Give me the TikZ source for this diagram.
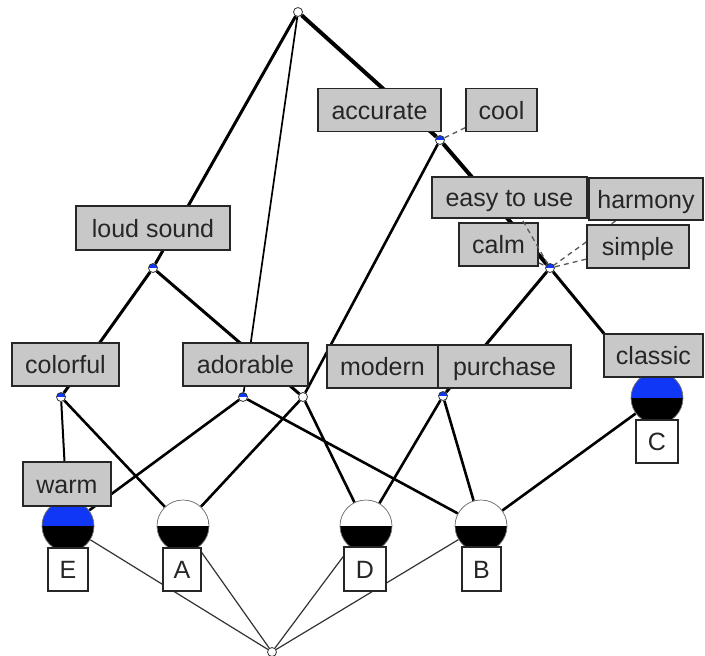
\documentclass[tikz,border=0pt]{standalone}
\usepackage{fontspec}
\setmainfont{Liberation Sans}
\pgfdeclarelayer{background}
\pgfsetlayers{background,main}
\definecolor{lblgray}{RGB}{200,200,200}
\definecolor{attrblue}{RGB}{15,55,245}
\tikzset{
  attrbox/.style={draw=black!85, line width=1.6pt, fill=lblgray, inner sep=0pt,
    minimum height=43pt, text height=18.5pt, text depth=0pt, text=black!85,
    font=\fontsize{25}{28}\selectfont},
  objbox/.style={attrbox, fill=white},
  cdot/.style={circle, draw=black!80, line width=0.8pt, fill=white,
    minimum size=9pt, inner sep=0pt},
  cdotattr/.style={cdot, path picture={\fill[attrblue]
    (path picture bounding box.north west) rectangle (path picture bounding box.east);}},
  cdisc/.style={circle, draw=black!55, line width=0.7pt, fill=black,
    minimum size=52pt, inner sep=0pt, path picture={\fill[#1]
    (path picture bounding box.north west) rectangle (path picture bounding box.east);}},
  wheavy/.style={line width=4pt},
  wstrong/.style={line width=3pt},
  wmed/.style={line width=2.6pt},
  wlight/.style={line width=1.7pt},
  wfine/.style={line width=1.2pt, draw=black!80},
  labellink/.style={line width=1.3pt, draw=black!65, dash pattern=on 5pt off 4pt},
}
\begin{document}
\begin{tikzpicture}[x=1pt,y=-1pt]
\useasboundingbox (0,0) rectangle (705,656);

% concepts of the lattice
\node[cdot]     (top)      at (298,12)  {};
\node[cdotattr] (acc)      at (440,140) {};
\node[cdotattr] (loud)     at (153,268) {};
\node[cdotattr] (calm)     at (550,268) {};
\node[cdotattr] (colorful) at (61,397)  {};
\node[cdotattr] (adorable) at (243,397) {};
\node[cdot]     (mid)      at (303,397) {};
\node[cdotattr] (purch)    at (443,396) {};
\node[cdisc=attrblue] (E)  at (68,526)  {};
\node[cdisc=white]    (A)  at (183,526) {};
\node[cdisc=white]    (D)  at (366,526) {};
\node[cdisc=white]    (B)  at (481,526) {};
\node[cdisc=attrblue] (C)  at (657,398) {};
\node[cdot]     (bottom)   at (272,652) {};

% attribute labels
\node[attrbox, minimum width=123pt] (l-accurate) at (379.5,110) {accurate};
\node[attrbox, minimum width=71pt]  (l-cool)     at (501.5,110) {cool};
\node[attrbox, minimum width=79pt]  (l-calm)     at (498.5,244.5) {calm};
\draw[labellink] (509.5,197.5) -- (calm);
\node[attrbox, minimum width=155pt, minimum height=41pt] (l-easy) at (509.5,197.5) {easy to use};
\node[attrbox, minimum width=114pt, minimum height=42pt] (l-harmony) at (646,199) {harmony};
\node[attrbox, minimum width=102pt] (l-simple)   at (638,246.5) {simple};
\node[attrbox, minimum width=154pt, minimum height=44pt] (l-loud) at (153,228) {loud sound};
\node[attrbox, minimum width=107pt] (l-colorful) at (65.5,364.5) {colorful};
\node[attrbox, minimum width=125pt] (l-adorable) at (245.5,364.5) {adorable};
\node[attrbox, minimum width=111pt] (l-modern)   at (382.5,366.5) {modern};
\node[attrbox, minimum width=133pt] (l-purchase) at (504.5,366.5) {purchase};
\node[attrbox, minimum width=99pt]  (l-classic)  at (653.5,355.5) {classic};
\node[attrbox, minimum width=88pt, minimum height=44pt] (l-warm) at (67,484) {warm};

% object labels
\node[objbox, minimum width=40pt] (o-E) at (68,569.5)  {E};
\node[objbox, minimum width=38pt] (o-A) at (182,569.5) {A};
\node[objbox, minimum width=42pt, minimum height=44pt] (o-D) at (365,569) {D};
\node[objbox, minimum width=39pt, minimum height=44pt] (o-B) at (481.5,569) {B};
\node[objbox, minimum width=42pt] (o-C) at (657,441.5) {C};

\begin{pgfonlayer}{background}
  % order relation
  \draw[wheavy]  (top) -- (acc);
  \draw[wstrong] (top) -- (loud);
  \draw[wlight]  (top) -- (adorable);
  \draw[wheavy]  (acc) -- (calm);
  \draw[wmed]    (acc) -- (mid);
  \draw[wstrong] (loud) -- (colorful);
  \draw[wstrong] (loud) -- (mid);
  \draw[wstrong] (calm) -- (purch);
  \draw[wstrong] (calm) -- (C);
  \draw[line width=2pt] (colorful) -- (E);
  \draw[wmed]    (colorful) -- (A);
  \draw[wmed]    (adorable) -- (E);
  \draw[wmed]    (adorable) -- (B);
  \draw[wmed]    (mid) -- (A);
  \draw[wmed]    (mid) -- (D);
  \draw[wmed]    (purch) -- (D);
  \draw[wmed]    (purch) -- (B);
  \draw[wmed]    (C) -- (B);
  \draw[wfine]   (E) -- (bottom);
  \draw[wfine]   (A) -- (bottom);
  \draw[wfine]   (D) -- (bottom);
  \draw[wfine]   (B) -- (bottom);
  % label leaders
  \draw[labellink] (l-cool) -- (acc);
  \draw[labellink] (l-calm) -- (calm);
  \draw[labellink] (l-simple) -- (calm);
  \draw[labellink] (l-harmony) -- (calm);
\end{pgfonlayer}
\end{tikzpicture}
\end{document}
